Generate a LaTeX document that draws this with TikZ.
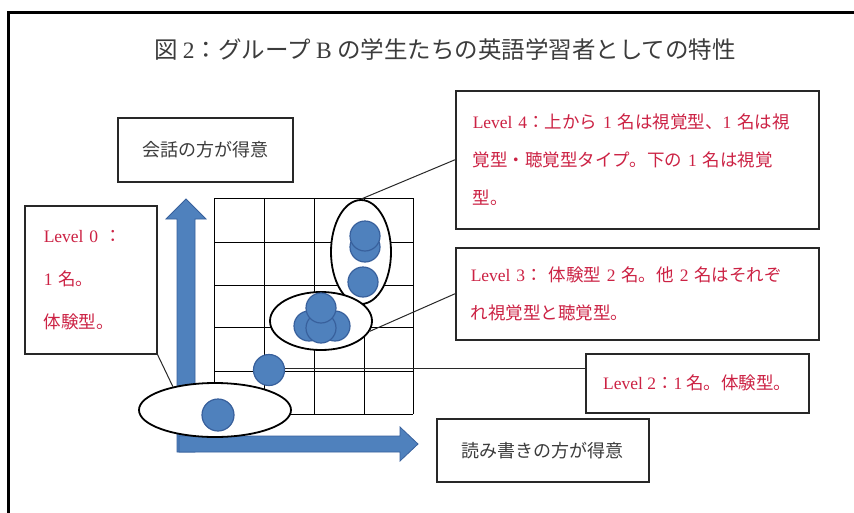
\documentclass[tikz,border=0pt]{standalone}
\usepackage{fontspec}
\setmainfont{Liberation Serif}
\newfontfamily\jp{Noto Sans CJK JP}
\usetikzlibrary{shapes.geometric}
\newcommand\latn[1]{{\rmfamily #1}}
\definecolor{txtred}{RGB}{204,34,68}
\definecolor{dotblue}{RGB}{79,129,189}
\definecolor{dotedge}{RGB}{56,96,156}
\definecolor{boxgray}{RGB}{40,40,40}
\definecolor{labgray}{RGB}{60,60,60}
\begin{document}
\begin{tikzpicture}[x=1pt,y=-1pt,
  box/.style={draw=boxgray, line width=1.5pt, fill=white, rectangle, inner sep=0pt, anchor=north west},
  redtext/.style={text=txtred, align=left},
  labtext/.style={text=labgray, font=\jp\fontsize{18}{22}\selectfont},
  ell/.style={ellipse, draw=black, line width=1.8pt, fill=white, inner sep=0pt},
  dot/.style={circle, fill=dotblue, draw=dotedge, line width=1.2pt, minimum size=30pt, inner sep=0pt},
  gridline/.style={draw=black, line width=1pt},
  conn/.style={draw=boxgray, line width=1pt},
  bigarrow/.style={fill=dotblue, draw=dotedge, line width=0.8pt, line join=miter}]
\useasboundingbox (0,0) rectangle (854,512);
\fill[white] (0,0) rectangle (854,512);
\draw[line width=3pt] (8,530) -- (8,12) -- (870,12);

% title
\node[font=\jp\fontsize{23.5}{28}\selectfont, text=labgray] (title) at (445,50)
  {図 \latn{2}：グループ \latn{B} の学生たちの英語学習者としての特性};

% axis arrows
\filldraw[bigarrow] (177,452) -- (177,219) -- (166,219) -- (186,199) -- (206,219) -- (195,219) -- (195,452) -- cycle;
\filldraw[bigarrow] (179,436) -- (400,436) -- (400,427) -- (418,444) -- (400,461) -- (400,452) -- (179,452) -- cycle;

% grid
\foreach \x in {214,264,314,364,413} \draw[gridline] (\x,198) -- (\x,414);
\foreach \y in {198,242,285,327,371,414} \draw[gridline] (214,\y) -- (413,\y);

% groups
\node[ell, minimum width=152pt, minimum height=54pt] (e0) at (215,410) {};
\node[dot, minimum size=32pt] (d0) at (218,415) {};
\node[dot, minimum size=31pt] (d2) at (269,370) {};
\node[ell, minimum width=60pt, minimum height=104pt] (e4) at (361,252) {};
\node[dot] (d4a) at (365,247) {};
\node[dot] (d4b) at (365,236) {};
\node[dot] (d4c) at (363,282) {};
\node[ell, minimum width=102pt, minimum height=58pt] (e3) at (321,321) {};
\node[dot] (d3l) at (309,326) {};
\node[dot] (d3r) at (335,326) {};
\node[dot] (d3m) at (321,328) {};
\node[dot] (d3t) at (321,308) {};

% boxes
\node[box, minimum width=175pt, minimum height=64pt, labtext] (conv) at (117,117) {会話の方が得意};
\node[box, minimum width=212pt, minimum height=63pt, labtext] (rw) at (436,418) {読み書きの方が得意};
\node[box, redtext, text width=94pt, inner xsep=19pt, minimum height=148pt,
      font=\jp\fontsize{17.5}{43}\selectfont] (l0) at (24,205)
  {\latn{Level 0} ：\\\latn{1} 名。\\体験型。};
\node[box, redtext, text width=329pt, inner xsep=17pt, minimum height=138pt,
      font=\jp\fontsize{17.5}{38}\selectfont] (l4) at (455,90)
  {\latn{Level 4}：上から \latn{1} 名は視覚型、\latn{1} 名は視\\覚型・聴覚型タイプ。下の \latn{1} 名は視覚\\型。};
\node[box, redtext, text width=333pt, inner xsep=15pt, minimum height=92pt,
      font=\jp\fontsize{17.5}{38}\selectfont] (l3) at (455,247)
  {\latn{Level 3}： 体験型 \latn{2} 名。他 \latn{2} 名はそれぞ\\れ視覚型と聴覚型。};
\node[box, text=txtred, minimum width=223pt, minimum height=59pt,
      font=\jp\fontsize{17.5}{22}\selectfont] (l2) at (585,353)
  {\latn{Level 2}：\latn{1} 名。体験型。};

% connectors
\draw[conn] (e4.north) -- (l4.west);
\draw[conn] (e3.-12) -- (l3.west);
\coordinate (l2in) at ([yshift=2pt]d2.east -| l2.west);
\draw[conn] ([yshift=2pt]d2.east) -- (l2in);
\draw[conn] (l0.south east) -- (e0.151);
\end{tikzpicture}
\end{document}
